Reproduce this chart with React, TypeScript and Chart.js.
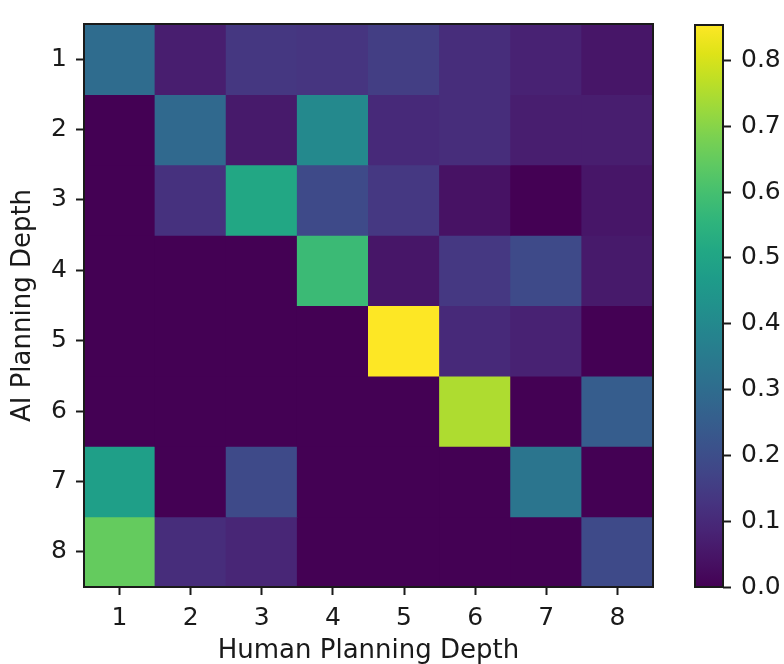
import React, { useEffect, useRef } from 'react';
import { Chart, registerables } from 'chart.js';

Chart.register(...registerables);

// Human planning depth (columns) and AI planning depth (rows)
const HUMAN_DEPTHS = ['1', '2', '3', '4', '5', '6', '7', '8'];
const AI_DEPTHS = [1, 2, 3, 4, 5, 6, 7, 8];

// Cell values, one array per AI planning depth, columns = human depth 1..8
const AI_1 = [0.30, 0.07, 0.135, 0.13, 0.155, 0.11, 0.08, 0.05];
const AI_2 = [0.0, 0.29, 0.06, 0.40, 0.10, 0.11, 0.07, 0.07];
const AI_3 = [0.0, 0.12, 0.51, 0.19, 0.14, 0.04, 0.0, 0.05];
const AI_4 = [0.0, 0.0, 0.0, 0.58, 0.05, 0.14, 0.19, 0.06];
const AI_5 = [0.0, 0.0, 0.0, 0.0, 0.854, 0.10, 0.08, 0.0];
const AI_6 = [0.0, 0.0, 0.0, 0.0, 0.0, 0.75, 0.0, 0.25];
const AI_7 = [0.48, 0.0, 0.19, 0.0, 0.0, 0.0, 0.33, 0.0];
const AI_8 = [0.65, 0.11, 0.09, 0.0, 0.0, 0.0, 0.0, 0.19];
const ROWS = [AI_1, AI_2, AI_3, AI_4, AI_5, AI_6, AI_7, AI_8];

const COLOR_MIN = 0;
const COLOR_MAX = 0.854;
const COLORBAR_TICKS = [0, 0.1, 0.2, 0.3, 0.4, 0.5, 0.6, 0.7, 0.8];

// matplotlib viridis sampled at 0, 0.05, ..., 1
const VIRIDIS = [
  '#440154', '#471365', '#482475', '#463480', '#414487', '#3b528b', '#355f8d',
  '#2f6c8e', '#2a788e', '#25848e', '#21918c', '#1e9c89', '#22a884', '#2fb47c',
  '#44bf70', '#5ec962', '#7ad151', '#9bd93c', '#bddf26', '#dfe318', '#fde725',
];

function hexToRgb(h: string): number[] {
  return [parseInt(h.slice(1, 3), 16), parseInt(h.slice(3, 5), 16), parseInt(h.slice(5, 7), 16)];
}

function viridis(t: number): string {
  const c = Math.max(0, Math.min(1, t));
  const pos = c * (VIRIDIS.length - 1);
  const i = Math.min(VIRIDIS.length - 2, Math.floor(pos));
  const f = pos - i;
  const a = hexToRgb(VIRIDIS[i]);
  const b = hexToRgb(VIRIDIS[i + 1]);
  const r = a.map((v, k) => Math.round(v + (b[k] - v) * f));
  return `rgb(${r[0]},${r[1]},${r[2]})`;
}

const FONT = "'DejaVu Sans', sans-serif";
const INK = '#1a1a1a';
const W = 784;
const H = 664;
const MAIN_W = 680;
const TICK_SIZE = 25;
const TITLE_SIZE = 26;

const framePlugin = {
  id: 'frame',
  afterDatasetsDraw(chart: any) {
    const { ctx, chartArea } = chart;
    const { left, top, right, bottom } = chartArea;
    ctx.save();
    ctx.strokeStyle = INK;
    ctx.lineWidth = 2;
    ctx.strokeRect(left, top, right - left, bottom - top);
    ctx.restore();
  },
};

export default function App() {
  const mainRef = useRef<HTMLCanvasElement>(null);
  const barRef = useRef<HTMLCanvasElement>(null);

  useEffect(() => {
    const datasets = ROWS.map((row, r) => ({
      label: `AI ${AI_DEPTHS[r]}`,
      data: row.map(() => [AI_DEPTHS[r] - 0.5, AI_DEPTHS[r] + 0.5]),
      backgroundColor: row.map((v) => viridis((v - COLOR_MIN) / (COLOR_MAX - COLOR_MIN))),
      borderWidth: 0,
      inflateAmount: 0.5,
      categoryPercentage: 1,
      barPercentage: 1,
    }));

    const main = new Chart(mainRef.current!, {
      type: 'bar',
      data: { labels: HUMAN_DEPTHS, datasets: datasets as any },
      options: {
        responsive: false,
        animation: false,
        events: [],
        layout: { padding: { top: 17, right: 27, left: 0, bottom: 0 } },
        plugins: { legend: { display: false }, tooltip: { enabled: false } },
        scales: {
          x: {
            type: 'category',
            stacked: true,
            afterFit: (s: any) => { s.height = 77; },
            grid: {
              offset: false,
              drawOnChartArea: false,
              drawTicks: true,
              tickLength: 8,
              tickWidth: 2,
              tickColor: INK,
            },
            border: { display: false },
            ticks: { color: INK, font: { family: FONT, size: TICK_SIZE }, padding: 8, maxRotation: 0 },
            title: {
              display: true,
              text: 'Human Planning Depth',
              color: INK,
              font: { family: FONT, size: TITLE_SIZE, lineHeight: 1 },
              padding: 0,
            },
          },
          y: {
            type: 'linear',
            min: 0.5,
            max: 8.5,
            reverse: true,
            afterFit: (s: any) => { s.width = 84; },
            afterBuildTicks: (s: any) => { s.ticks = AI_DEPTHS.map((v) => ({ value: v })); },
            grid: {
              drawOnChartArea: false,
              drawTicks: true,
              tickLength: 8,
              tickWidth: 2,
              tickColor: INK,
            },
            border: { display: false },
            ticks: { color: INK, font: { family: FONT, size: TICK_SIZE }, padding: 9 },
            title: {
              display: true,
              text: 'AI Planning Depth',
              color: INK,
              font: { family: FONT, size: TITLE_SIZE, lineHeight: 1 },
              padding: 10,
            },
          },
        },
      },
      plugins: [framePlugin],
    });

    const bar = new Chart(barRef.current!, {
      type: 'bar',
      data: {
        labels: [''],
        datasets: [
          {
            data: [[COLOR_MIN, COLOR_MAX]] as any,
            borderWidth: 0,
            categoryPercentage: 1,
            barPercentage: 1,
            backgroundColor: (ctx: any) => {
              const { chart } = ctx;
              const area = chart.chartArea;
              if (!area) return VIRIDIS[0];
              const g = chart.ctx.createLinearGradient(0, area.bottom, 0, area.top);
              VIRIDIS.forEach((c, i) => g.addColorStop(i / (VIRIDIS.length - 1), c));
              return g;
            },
          },
        ],
      },
      options: {
        responsive: false,
        animation: false,
        events: [],
        layout: { padding: { top: 17, right: 0, left: 15, bottom: 77 } },
        plugins: { legend: { display: false }, tooltip: { enabled: false } },
        scales: {
          x: { display: false },
          y: {
            type: 'linear',
            position: 'right',
            min: COLOR_MIN,
            max: COLOR_MAX,
            afterFit: (s: any) => { s.width = 61; },
            afterBuildTicks: (s: any) => { s.ticks = COLORBAR_TICKS.map((v) => ({ value: v })); },
            grid: {
              drawOnChartArea: false,
              drawTicks: true,
              tickLength: 8,
              tickWidth: 2,
              tickColor: INK,
            },
            border: { display: false },
            ticks: {
              color: INK,
              font: { family: FONT, size: TICK_SIZE },
              padding: 10,
              callback: (v: any) => Number(v).toFixed(1),
            },
          },
        },
      },
      plugins: [framePlugin],
    });

    return () => {
      main.destroy();
      bar.destroy();
    };
  }, []);

  return (
    <div style={{ position: 'absolute', left: 0, top: 0, width: W, height: H, background: '#fff' }}>
      <canvas
        ref={mainRef}
        width={MAIN_W}
        height={H}
        style={{ position: 'absolute', left: 0, top: 0, width: MAIN_W, height: H }}
      />
      <canvas
        ref={barRef}
        width={W - MAIN_W}
        height={H}
        style={{ position: 'absolute', left: MAIN_W, top: 0, width: W - MAIN_W, height: H }}
      />
    </div>
  );
}
